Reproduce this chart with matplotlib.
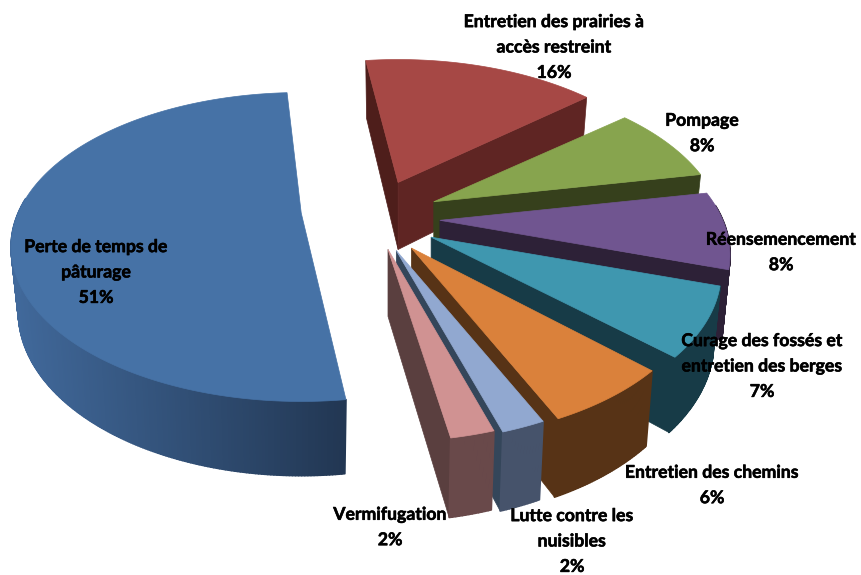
import numpy as np
import matplotlib
matplotlib.use('Agg')
import matplotlib.pyplot as plt
import matplotlib.patheffects as pe
from matplotlib.collections import PolyCollection
from matplotlib.colors import to_rgb

# chart data, clockwise from the blue slice
labels = ['Perte de temps de\npâturage', 'Entretien des prairies à\naccès restreint', 'Pompage',
          'Réensemencement', 'Curage des fossés et\nentretien des berges', 'Entretien des chemins',
          'Lutte contre les\nnuisibles', 'Vermifugation']
values = [51, 16, 8, 8, 7, 6, 2, 2]

# slice styles
top_colors = ['#4672A6', '#A64845', '#87A44E', '#705590', '#3F97AF', '#DA813B', '#91A8D0', '#D09292']
arc_left = ['#41699B', '#5F2523', '#36401C', '#2D2137', '#173B47', '#573316', '#46536B', '#69494A']
arc_right = ['#223753', '#5F2523', '#36401C', '#2D2137', '#173B47', '#573316', '#46536B', '#69494A']
start_wall = ['#223753', '#4E1E1B', '#36401C', '#2D2137', '#173B47', '#573316', '#34465A', '#5A3F3F']
end_wall = ['#223753', '#5F2523', '#36401C', '#2D2137', '#173B47', '#573316', '#34465A', '#5A3F3F']
explode = [1.14, 1.0, 1.0, 1.0, 1.0, 0.97, 0.92, 0.85]
twist = [4.5, 0, 0.7, 0.7, 0.5, 1.5, 1.5, 1.6]  # small angle nudges per slice
lift = [9, 0, 0, 0, 0, 0, 0, 0]  # blue sits higher than the others
squash = [0.98, 1, 1, 1, 1, 1, 1, 1]
thick = [0.93, 1, 1, 1, 1, 1, 1, 1]
label_pos = [(96, 272), (554, 47), (702, 133), (781, 252), (762, 366), (712, 485), (572, 541), (390, 527)]

# view settings, all in pixels of the 861x575 picture
center = (375, 218)
shift_x, shift_y = 65, 38
rx, ry = 283, 150
persp = 0.22
depth = 67
bottom_shrink = 0.975
first_angle = 168.4


def project(apex, a_deg, i, r=1.0, low=False):
    # a_deg is clockwise from the top of the pie
    a = np.radians(a_deg)
    s, c = np.sin(a) * r, np.cos(a) * r
    k = 1 + persp * c
    x = rx * s / k
    y = -ry * squash[i] * c / k
    if low:
        x = x * bottom_shrink
        y = y + thick[i] * depth / (1 + 0.16 * c)
    return apex[0] + x, apex[1] + y


fig = plt.figure(figsize=(8.61, 5.75), dpi=100)
ax = fig.add_axes([0, 0, 1, 1])
ax.set_xlim(0, 861)
ax.set_ylim(575, 0)
ax.axis('off')

sweeps = np.array(values) / sum(values) * 360
starts = first_angle + np.concatenate([[0], np.cumsum(sweeps)[:-1]])

# red is furthest back, then round clockwise to the front, blue stands apart
for i in range(len(values)):
    a0 = starts[i] + twist[i]
    a1 = a0 + sweeps[i]
    mid = np.radians((a0 + a1) / 2)
    e = explode[i]
    apex = (center[0] + e * shift_x * np.sin(mid), center[1] - e * shift_y * np.cos(mid) - lift[i])

    arc = np.linspace(a0, a1, max(int(sweeps[i] * 2), 8))
    rim = np.array([project(apex, a, i) for a in arc])
    rim_low = np.array([project(apex, a, i, low=True) for a in arc])

    # radial walls, only those turned to the viewer
    if np.sin(np.radians(a0)) < 0:
        quad = [apex, project(apex, a0, i), project(apex, a0, i, low=True), project(apex, a0, i, r=0, low=True)]
        ax.fill(*zip(*quad), color=start_wall[i], lw=0.5, zorder=i * 3 + 1)
    if np.sin(np.radians(a1)) > 0:
        quad = [apex, project(apex, a1, i), project(apex, a1, i, low=True), project(apex, a1, i, r=0, low=True)]
        ax.fill(*zip(*quad), color=end_wall[i], lw=0.5, zorder=i * 3 + 1)

    # outer wall, shaded strip by strip
    polys, cols = [], []
    left, right = np.array(to_rgb(arc_left[i])), np.array(to_rgb(arc_right[i]))
    for j in range(len(arc) - 1):
        am = np.radians((arc[j] + arc[j + 1]) / 2)
        if np.cos(am) > 0.1:
            continue
        polys.append([rim[j], rim[j + 1], rim_low[j + 1], rim_low[j]])
        t = (rim[j][0] - rim[:, 0].min()) / max(rim[:, 0].max() - rim[:, 0].min(), 1)
        cols.append(left + (right - left) * t)
    if polys:
        ax.add_collection(PolyCollection(polys, facecolors=cols, edgecolors=cols, linewidths=1.2, zorder=i * 3 + 1))

    # top face
    top = np.vstack([[apex], rim])
    ax.fill(top[:, 0], top[:, 1], color=top_colors[i], lw=0.5, zorder=i * 3 + 2)

for name, v, (x, y) in zip(labels, values, label_pos):
    ax.text(x, y, f'{name}\n{v}%', ha='center', va='center', family='Lato', fontweight='bold',
            fontsize=12.7, linespacing=1.6, color='black', zorder=50,
            path_effects=[pe.withStroke(linewidth=0.4, foreground='black')])

fig.savefig('out.png', dpi=100)
